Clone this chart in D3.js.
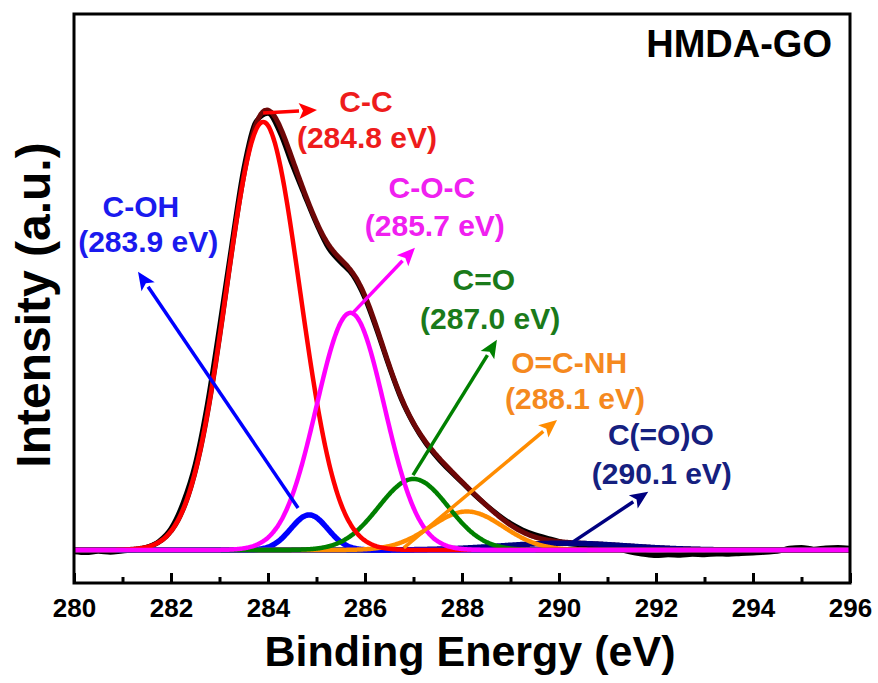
<!DOCTYPE html>
<html>
<head>
<meta charset="utf-8">
<script src="https://cdn.jsdelivr.net/npm/d3@7"></script>
<style>
  html, body { margin: 0; padding: 0; background: #fff; }
  svg { display: block; font-family: Arial, "Liberation Sans", sans-serif; font-weight: bold; }
</style>
</head>
<body>
<svg id="chart" width="878" height="683"></svg>
<script>
// ---- C 1s spectrum of HMDA-GO: measured trace and fitted components ----

// Axis ticks (binding energy, eV)
const majorTicks = [280, 282, 284, 286, 288, 290, 292, 294, 296];
const minorTicks = [281, 283, 285, 287, 289, 291, 293, 295];

// Fitted components
const peakNames   = ["C-C", "C-OH", "C-O-C", "C=O", "O=C-NH", "C(=O)O"];
const peakTexts   = ["(284.8 eV)", "(283.9 eV)", "(285.7 eV)", "(287.0 eV)", "(288.1 eV)", "(290.1 eV)"];
const peakCenters = [283.9, 284.85, 285.7, 287.0, 288.1, 290.1];   // eV
const peakHeights = [1.0, 0.082, 0.554, 0.166, 0.09, 0.016];       // a.u.
const peakSigmas  = [0.76, 0.38, 0.70, 0.72, 0.75, 1.3];           // eV

// Measured intensity, 280 → 296 eV every 0.25 eV
const measuredStart = 280, measuredStep = 0.25;
const measured = [
  -0.004, -0.006, -0.003, -0.005, -0.002, 0.000, 0.006, 0.020,   // 280.00 – 281.75
   0.050,  0.110,  0.200,  0.340,  0.520, 0.710, 0.890, 1.000,   // 282.00 – 283.75
   1.020,  0.975,  0.900,  0.830,  0.762, 0.705, 0.672, 0.642,   // 284.00 – 285.75
   0.588,  0.512,  0.428,  0.352,  0.295, 0.250, 0.215, 0.185,   // 286.00 – 287.75
   0.158,  0.130,  0.105,  0.082,  0.062, 0.047, 0.036, 0.028,   // 288.00 – 289.75
   0.020,  0.014,  0.012,  0.008,  0.005, 0.001, -0.005, -0.010, // 290.00 – 291.75
  -0.013, -0.011, -0.012, -0.010, -0.011, -0.009, -0.010, -0.008,// 292.00 – 293.75
  -0.007, -0.005, -0.003,  0.004,  0.006, 0.002, 0.005, 0.006,   // 294.00 – 295.75
   0.004                                                          // 296.00
];

// ---- styles & layout ----
const peakColors  = ["#ff0000", "#0000ff", "#ff00ff", "#008000", "#ff8c00", "#000080"];
const textColors  = ["#ee1c1c", "#1a1aee", "#f020f0", "#1a7a1a", "#f5891f", "#15207f"];
const drawOrder   = [5, 1, 4, 3, 0, 2];   // magenta (C-O-C) ends on top

// Arrow start/tip and label anchors, in axis units [eV, a.u.]
const arrows = [
  [[283.90, 1.021], [285.01, 1.028]],
  [[284.62, 0.098], [281.32, 0.650]],
  [[285.75, 0.554], [287.03, 0.706]],
  [[286.99, 0.175], [288.72, 0.491]],
  [[286.80, 0.005], [289.96, 0.304]],
  [[290.29, 0.019], [291.84, 0.136]]
];
const nameAnchors = [[286.02, 1.023], [281.38, 0.778], [287.38, 0.822], [288.45, 0.607], [290.21, 0.414], [292.10, 0.245]];
const textAnchors = [[286.04, 0.939], [281.53, 0.696], [287.44, 0.734], [288.58, 0.516], [290.33, 0.329], [292.12, 0.154]];

const plot = { left: 74, right: 850, top: 14, bottom: 583 };

const svg = d3.select("#chart");

const x = d3.scaleLinear().domain([280, 296]).range([plot.left, plot.right]);
const y = d3.scaleLinear().domain([-0.077, 1.252]).range([plot.bottom, plot.top]);

svg.append("defs").append("clipPath").attr("id", "plotClip")
  .append("rect")
  .attr("x", plot.left).attr("y", plot.top)
  .attr("width", plot.right - plot.left).attr("height", plot.bottom - plot.top);

// Gaussian component i evaluated at energy e
function component(i, e) {
  const d = e - peakCenters[i];
  return peakHeights[i] * Math.exp(-(d * d) / (2 * peakSigmas[i] * peakSigmas[i]));
}
const grid = d3.range(280, 296.0001, 0.02);
const envelope = e => d3.sum(peakCenters, (_, i) => component(i, e));

const line = d3.line().x(d => x(d[0])).y(d => y(d[1])).curve(d3.curveMonotoneX);

const g = svg.append("g").attr("clip-path", "url(#plotClip)");

// measured trace
g.append("path")
  .datum(measured.map((v, i) => [measuredStart + i * measuredStep, v]))
  .attr("d", line)
  .attr("fill", "none").attr("stroke", "#000").attr("stroke-width", 5)
  .attr("stroke-linejoin", "round");

// fit envelope
g.append("path")
  .datum(grid.map(e => [e, envelope(e)]))
  .attr("d", line)
  .attr("fill", "none").attr("stroke", "#6e0707").attr("stroke-width", 5)
  .attr("stroke-linejoin", "round");

// components
drawOrder.forEach(i => {
  g.append("path")
    .datum(grid.map(e => [e, component(i, e)]))
    .attr("d", line)
    .attr("fill", "none").attr("stroke", peakColors[i])
    .attr("stroke-width", i === 5 || i === 1 ? 5.5 : 4.5)
    .attr("stroke-linejoin", "round");
});

// arrows
const arrowLayer = svg.append("g");
arrows.forEach((a, i) => {
  const x0 = x(a[0][0]), y0 = y(a[0][1]);
  const x1 = x(a[1][0]), y1 = y(a[1][1]);
  const ang = Math.atan2(y1 - y0, x1 - x0);
  const headLen = 18, headHalf = 8;
  const bx = x1 - headLen * Math.cos(ang), by = y1 - headLen * Math.sin(ang);
  arrowLayer.append("line")
    .attr("x1", x0).attr("y1", y0).attr("x2", bx).attr("y2", by)
    .attr("stroke", peakColors[i]).attr("stroke-width", 3.5);
  const pts = [
    [x1, y1],
    [bx + headHalf * Math.sin(ang), by - headHalf * Math.cos(ang)],
    [bx + 4 * Math.cos(ang), by + 4 * Math.sin(ang)],
    [bx - headHalf * Math.sin(ang), by + headHalf * Math.cos(ang)]
  ];
  arrowLayer.append("polygon")
    .attr("points", pts.map(p => p.join(",")).join(" "))
    .attr("fill", peakColors[i]);
});

// labels
const labelLayer = svg.append("g").attr("font-size", 30).attr("text-anchor", "middle");
peakNames.forEach((name, i) => {
  labelLayer.append("text")
    .attr("x", x(nameAnchors[i][0])).attr("y", y(nameAnchors[i][1]))
    .attr("fill", textColors[i]).text(name);
  labelLayer.append("text")
    .attr("x", x(textAnchors[i][0])).attr("y", y(textAnchors[i][1]))
    .attr("fill", textColors[i]).text(peakTexts[i]);
});

// frame
svg.append("rect")
  .attr("x", plot.left).attr("y", plot.top)
  .attr("width", plot.right - plot.left).attr("height", plot.bottom - plot.top)
  .attr("fill", "none").attr("stroke", "#000").attr("stroke-width", 3);

// x axis: inward ticks
const xAxis = svg.append("g")
  .attr("transform", `translate(0,${plot.bottom})`)
  .call(d3.axisBottom(x).tickValues(majorTicks).tickFormat(d3.format("d"))
        .tickSizeInner(-10).tickSizeOuter(0).tickPadding(16));
xAxis.select(".domain").remove();
xAxis.selectAll(".tick line").attr("stroke", "#000").attr("stroke-width", 3);
xAxis.selectAll(".tick text")
  .attr("font-size", 26).attr("font-weight", "bold")
  .attr("font-family", 'Arial, "Liberation Sans", sans-serif').attr("fill", "#000");

const xMinor = svg.append("g")
  .attr("transform", `translate(0,${plot.bottom})`)
  .call(d3.axisBottom(x).tickValues(minorTicks).tickFormat("").tickSizeInner(-6).tickSizeOuter(0));
xMinor.select(".domain").remove();
xMinor.selectAll(".tick line").attr("stroke", "#000").attr("stroke-width", 3);

// axis titles
svg.append("text")
  .attr("x", 470).attr("y", 666)
  .attr("text-anchor", "middle").attr("font-size", 43).attr("fill", "#000")
  .text("Binding Energy (eV)");

svg.append("text")
  .attr("transform", "translate(50,305) rotate(-90)")
  .attr("text-anchor", "middle").attr("font-size", 48).attr("fill", "#000")
  .text("Intensity (a.u.)");

// sample name
svg.append("text")
  .attr("x", 832).attr("y", 57)
  .attr("text-anchor", "end").attr("font-size", 38).attr("fill", "#000")
  .text("HMDA-GO");
</script>
</body>
</html>
